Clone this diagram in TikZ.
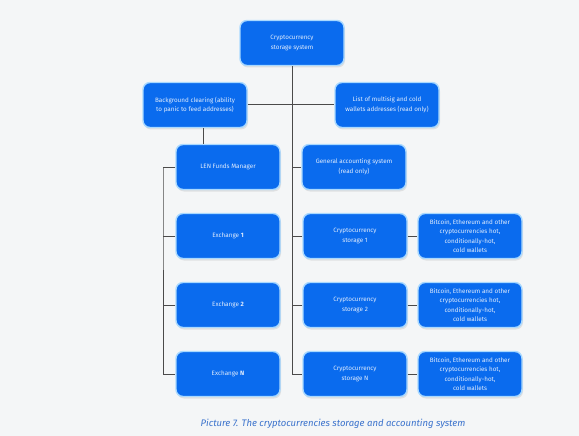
\documentclass[tikz,border=0pt]{standalone}
\usepackage{fontspec}
\setmainfont{Fira Sans}
\usetikzlibrary{shadows}
\definecolor{bgc}{HTML}{F4F6F7}
\definecolor{boxc}{HTML}{0A6BEE}
\definecolor{rimc}{HTML}{A9D9FF}
\definecolor{linec}{HTML}{4A4A4A}
\definecolor{capc}{HTML}{3A72CC}
\tikzset{
  box/.style={draw=rimc, line width=1.4pt, fill=boxc, rounded corners=7pt,
    minimum width=104pt, minimum height=45pt, inner sep=1pt, align=center,
    text=white!88!boxc, font=\fontsize{6.3}{9.6}\selectfont,
    drop shadow={shadow xshift=1pt, shadow yshift=-2pt, opacity=0.18}},
  conn/.style={draw=linec, line width=1pt}
}
\begin{document}
\begin{tikzpicture}[x=1pt,y=-1pt]
\fill[bgc] (0,0) rectangle (579,436);
\useasboundingbox (0,0) rectangle (579,436);
\node[box] (top) at (292,43) {Cryptocurrency\\storage system};
\node[box] (bg) at (195,105) {Background clearing (ability\\to panic to feed addresses)};
\node[box] (list) at (387,105) {List of multisig and cold\\wallets addresses (read only)};
\node[box] (len) at (228,167) {LEN Funds Manager};
\node[box] (gen) at (354,167) {General accounting system\\(read only)};
\node[box] (ex1) at (228,236) {Exchange \textbf{1}};
\node[box] (ex2) at (228,305) {Exchange \textbf{2}};
\node[box] (exN) at (228,374) {Exchange \textbf{N}};
\node[box] (st1) at (355,236) {Cryptocurrency\\storage 1};
\node[box] (st2) at (355,305) {Cryptocurrency\\storage 2};
\node[box] (stN) at (355,374) {Cryptocurrency\\storage N};
\node[box] (w1) at (470,236) {Bitcoin, Ethereum and other\\cryptocurrencies hot,\\conditionally-hot,\\cold wallets};
\node[box] (w2) at (470,305) {Bitcoin, Ethereum and other\\cryptocurrencies hot,\\conditionally-hot,\\cold wallets};
\node[box] (wN) at (470,374) {Bitcoin, Ethereum and other\\cryptocurrencies hot,\\conditionally-hot,\\cold wallets};
\node[text=capc, font=\fontsize{9.5}{11}\selectfont\itshape] (cap) at (333,424) {Picture 7. The cryptocurrencies storage and accounting system};
\coordinate (bus) at (163,168);
\coordinate (bgdown) at ([xshift=8pt]bg.south);
\draw[conn] (top.south) |- (stN.west);
\draw[conn] (bg.east) -- (list.west);
\draw[conn] (bgdown) -- (bgdown |- len.north);
\draw[conn] (len.west) -| (bus) |- (exN.west);
\draw[conn] (ex1.west) -- (ex1.west -| bus);
\draw[conn] (ex2.west) -- (ex2.west -| bus);
\draw[conn] (gen.west) -- (gen.west -| top.south);
\draw[conn] (st1.west) -- (st1.west -| top.south);
\draw[conn] (st2.west) -- (st2.west -| top.south);
\draw[conn] (st1.east) -- (w1.west);
\draw[conn] (st2.east) -- (w2.west);
\draw[conn] (stN.east) -- (wN.west);
\end{tikzpicture}
\end{document}
